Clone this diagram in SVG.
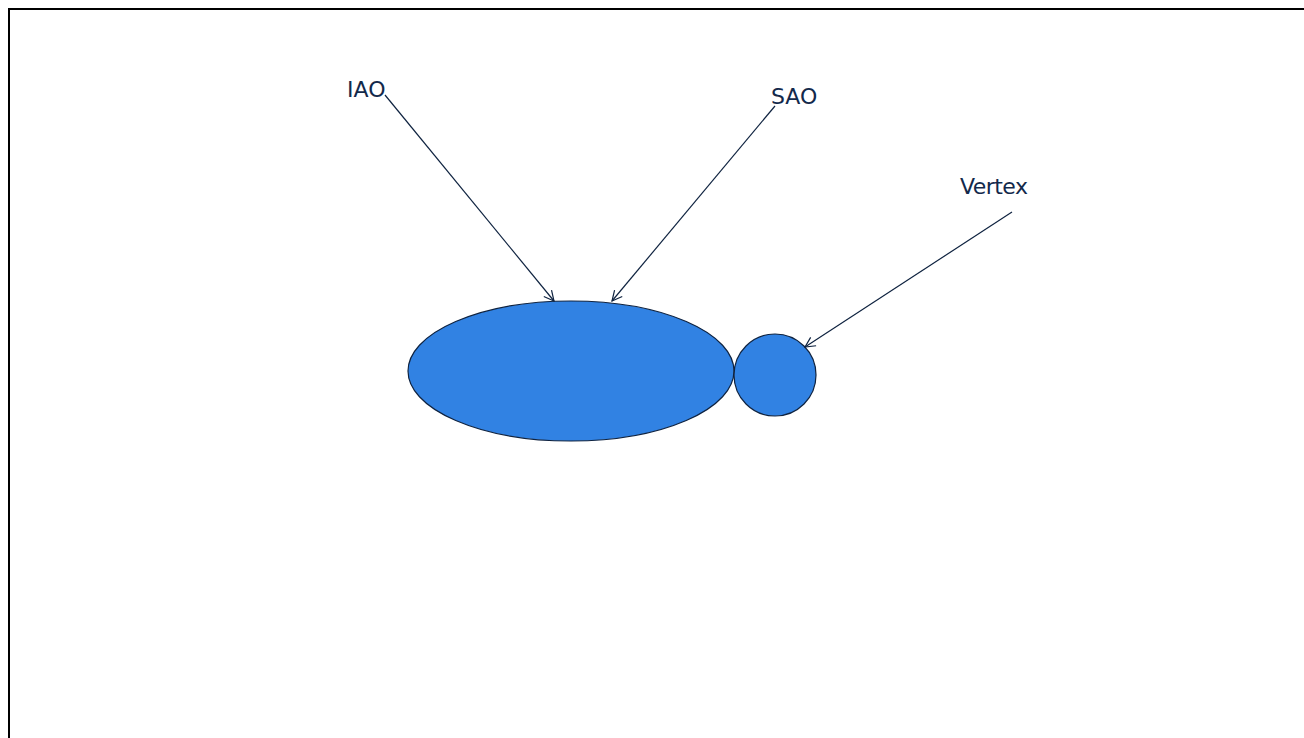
<svg xmlns="http://www.w3.org/2000/svg" width="1304" height="738" viewBox="0 0 1304 738">
  <defs>
    <marker id="arrow" viewBox="0 0 12 12" refX="11" refY="6" markerWidth="12" markerHeight="12" markerUnits="userSpaceOnUse" orient="auto">
      <path d="M1,1 L11,6 L1,11" fill="none" stroke="#0f2340" stroke-width="1.2"/>
    </marker>
  </defs>
  <style>
    .label { font-family: "DejaVu Sans", Verdana, sans-serif; font-size: 22px; fill: #13294b; }
    .shape { fill: #3182e3; stroke: #0f2340; stroke-width: 1.2; }
    .conn { stroke: #0f2340; stroke-width: 1.2; fill: none; marker-end: url(#arrow); }
  </style>
  <rect width="1304" height="738" fill="#ffffff"/>
  <!-- frame -->
  <path d="M9,738 V9 H1304" fill="none" stroke="#000" stroke-width="2"/>
  <g id="body">
    <ellipse class="shape" cx="571" cy="371" rx="163" ry="70"/>
  </g>
  <g id="head">
    <circle class="shape" cx="775" cy="375" r="41"/>
  </g>
  <g id="connectors">
    <line class="conn" x1="385" y1="95" x2="554" y2="301"/>
    <line class="conn" x1="775" y1="106" x2="612" y2="301"/>
    <line class="conn" x1="1012" y1="212" x2="805" y2="347"/>
  </g>
  <g id="label-iao"><text class="label" x="347" y="97">IAO</text></g>
  <g id="label-sao"><text class="label" x="771" y="104">SAO</text></g>
  <g id="label-vertex"><text class="label" x="960" y="194" textLength="68">Vertex</text></g>
</svg>
